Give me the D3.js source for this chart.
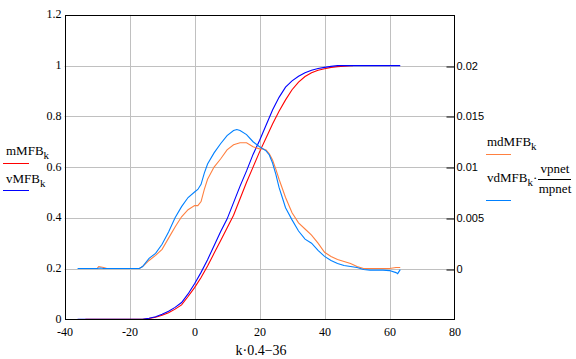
<!DOCTYPE html>
<html>
<head>
<meta charset="utf-8">
<script src="https://cdn.jsdelivr.net/npm/d3@7"></script>
<style>
  html, body { margin: 0; padding: 0; background: #ffffff; }
  svg { display: block; }
</style>
</head>
<body>
<svg id="chart" width="576" height="359"></svg>
<script>
// ---------- DATA ----------
const xTickValues = [-40, -20, 0, 20, 40, 60, 80];
const xTickLabels = ["-40", "-20", "0", "20", "40", "60", "80"];
const leftTickLabels = ["0", "0.2", "0.4", "0.6", "0.8", "1", "1.2"];
const rightTickLabels = ["0", "0.005", "0.01", "0.015", "0.02"];

// mMFB_k (red, left axis)
const mMFB_x = [-33.6,-16,-14,-12,-10,-8,-6,-4,-2,0,2,4,6,8,10,12,14,16,18,20,22,24,26,28,30,32,34,36,38,40,42,44,46,48,48.7];
const mMFB_y = [0,0,0.003,0.008,0.016,0.026,0.04,0.057,0.09,0.125,0.165,0.21,0.26,0.31,0.36,0.41,0.475,0.54,0.60,0.66,0.715,0.77,0.82,0.865,0.905,0.935,0.957,0.972,0.982,0.988,0.993,0.996,0.998,1.0,1.0];

// vMFB_k (blue, left axis)
const vMFB_x = [-36,-16,-14,-12,-10,-8,-6,-4,-2,0,2,4,6,8,10,12,14,16,18,20,22,24,26,28,30,32,34,36,38,40,42,44,63.3];
const vMFB_y = [0,0,0.004,0.01,0.02,0.032,0.047,0.066,0.1,0.14,0.185,0.235,0.29,0.345,0.395,0.46,0.525,0.585,0.65,0.705,0.765,0.825,0.875,0.915,0.94,0.958,0.972,0.982,0.989,0.993,0.997,1.0,1.0];

// mdMFB_k (orange, right axis)
const mdMFB_x = [-34,-30,-29.5,-28,-27,-17,-16,-14,-12,-10,-8,-6,-4,-2,0,1,2,3,4,6,8,10,12,14,16,18,20,21,22,23,24,25,26,28,30,32,34,36,38,40,42,44,46,48,50,52,54,56,58,60,62,63.3];
const mdMFB_y = [0,0,0.0002,0.0001,0,0,0.0002,0.0008,0.0013,0.0019,0.003,0.0041,0.0051,0.0058,0.0062,0.0062,0.0066,0.0078,0.0088,0.0100,0.0108,0.0117,0.0122,0.0124,0.0124,0.012,0.0118,0.0118,0.0117,0.0113,0.0107,0.0098,0.0088,0.007,0.0055,0.0045,0.0039,0.0033,0.0025,0.0016,0.0012,0.0009,0.0007,0.0005,0.0002,0,0,0,0,0,0.0001,0.0001];

// vdMFB_k * vpnet/mpnet (light blue, right axis)
const vdMFB_x = [-36,-30,-29,-28,-17,-16,-14,-12,-10,-8,-6,-4,-2,0,1,2,3,4,6,8,10,12,13,14,16,18,20,22,23,24,25,26,27,28,30,32,34,36,38,40,42,44,46,48,50,52,54,56,58,60,62,62.5,63.3];
const vdMFB_y = [0,0,0.00005,0,0,0.0002,0.001,0.0015,0.0024,0.0036,0.005,0.0061,0.007,0.00755,0.0078,0.0083,0.0094,0.0103,0.0114,0.0123,0.0131,0.0136,0.0137,0.0136,0.0132,0.0125,0.012,0.0116,0.0112,0.0104,0.0093,0.008,0.007,0.006,0.0048,0.0037,0.0029,0.0025,0.0018,0.0012,0.0008,0.0005,0.0003,0.0002,0.0001,-0.0001,-0.00015,-0.00015,-0.00015,-0.0002,-0.0004,-0.0005,-0.0001];

// ---------- LAYOUT ----------
const svg = d3.select("#chart");
const serif = "'Liberation Serif', 'Times New Roman', serif";
const sans = "'Liberation Sans', Arial, sans-serif";

const x = d3.scaleLinear().domain([-40, 80]).range([64.6, 454.5]);
const yL = d3.scaleLinear().domain([0, 1.2]).range([319.3, 14.9]);
const yR = d3.scaleLinear().domain([-0.005, 0.025]).range([319.3, 14.9]);

const gridColor = "#c0c0c0";

// gridlines
svg.append("g").selectAll("line.v")
  .data(xTickValues.filter(v => v > -40 && v < 80))
  .join("line")
  .attr("x1", d => Math.round(x(d)) + 0.5).attr("x2", d => Math.round(x(d)) + 0.5)
  .attr("y1", yL(1.2)).attr("y2", yL(0))
  .attr("stroke", gridColor).attr("stroke-width", 1);

svg.append("g").selectAll("line.h")
  .data(leftTickLabels.map(Number).filter(v => v > 0 && v < 1.2))
  .join("line")
  .attr("x1", x(-40)).attr("x2", x(80))
  .attr("y1", d => Math.round(yL(d)) + 0.5).attr("y2", d => Math.round(yL(d)) + 0.5)
  .attr("stroke", gridColor).attr("stroke-width", 1);

// series lines
function drawSeries(xs, ys, yScale, color) {
  const pts = xs.map((v, i) => [v, ys[i]]);
  const line = d3.line().x(d => x(d[0])).y(d => yScale(d[1]));
  svg.append("path").datum(pts)
    .attr("d", line)
    .attr("fill", "none")
    .attr("stroke", color)
    .attr("stroke-width", 1.1);
}
drawSeries(mMFB_x, mMFB_y, yL, "#ff0000");
drawSeries(vMFB_x, vMFB_y, yL, "#0000ff");
drawSeries(mdMFB_x, mdMFB_y, yR, "#ff8040");
drawSeries(vdMFB_x, vdMFB_y, yR, "#0080ff");

// frame
svg.append("rect")
  .attr("x", 65.5).attr("y", 15.5)
  .attr("width", 454.5 - 65.5).attr("height", 319.5 - 15.5)
  .attr("fill", "none").attr("stroke", "#000").attr("stroke-width", 1);

// left axis
const leftAxis = d3.axisLeft(yL)
  .tickValues(leftTickLabels.map(Number))
  .tickFormat((d, i) => leftTickLabels[i])
  .tickSize(0).tickPadding(4);
const gl = svg.append("g").attr("transform", "translate(65.5,0)").call(leftAxis);
gl.select(".domain").remove();
gl.selectAll("text").attr("font-family", serif).attr("font-size", 12).attr("fill", "#000")
  .attr("dy", "0.25em");

// bottom axis
const bottomAxis = d3.axisBottom(x)
  .tickValues(xTickValues)
  .tickFormat((d, i) => xTickLabels[i])
  .tickSize(0).tickPadding(8);
const gb = svg.append("g").attr("transform", "translate(0,319.5)").call(bottomAxis);
gb.select(".domain").remove();
gb.selectAll("text").attr("font-family", serif).attr("font-size", 12).attr("fill", "#000");

// right axis
const rightAxis = d3.axisRight(yR)
  .tickValues(rightTickLabels.map(Number))
  .tickFormat((d, i) => rightTickLabels[i])
  .tickSize(-8).tickPadding(2);
const gr = svg.append("g").attr("transform", "translate(454.5,0)").call(rightAxis);
gr.select(".domain").remove();
gr.selectAll("line").attr("stroke", "#000").attr("stroke-width", 1)
  .attr("transform", d => `translate(0,${Math.round(yR(d)) + 0.5 - yR(d)})`);
gr.selectAll("text").attr("font-family", sans).attr("font-size", 11).attr("fill", "#000");

// x axis title
const xt = svg.append("text").attr("x", 261).attr("y", 355)
  .attr("text-anchor", "middle").attr("font-family", serif).attr("font-size", 14).attr("fill", "#000");
xt.text("k·0.4−36");

// legend helper
function subLabel(xp, yp, main, sub, tail) {
  const t = svg.append("text").attr("x", xp).attr("y", yp)
    .attr("font-family", serif).attr("font-size", 13).attr("fill", "#000");
  t.append("tspan").text(main);
  t.append("tspan").attr("dy", 4).attr("font-size", 11).text(sub);
  if (tail) t.append("tspan").attr("dy", -4).text(tail);
  return t;
}
// left legend
subLabel(6, 155, "mMFB", "k");
svg.append("line").attr("x1", 3).attr("x2", 29).attr("y1", 163.5).attr("y2", 163.5)
  .attr("stroke", "#ff0000").attr("stroke-width", 1);
subLabel(6, 183, "vMFB", "k");
svg.append("line").attr("x1", 3).attr("x2", 29).attr("y1", 190.5).attr("y2", 190.5)
  .attr("stroke", "#0000ff").attr("stroke-width", 1);

// right legend
subLabel(487, 146, "mdMFB", "k");
svg.append("line").attr("x1", 486).attr("x2", 511).attr("y1", 154.5).attr("y2", 154.5)
  .attr("stroke", "#ff8040").attr("stroke-width", 1);
subLabel(487, 182, "vdMFB", "k", "·");
svg.append("text").attr("x", 555).attr("y", 173).attr("text-anchor", "middle")
  .attr("font-family", serif).attr("font-size", 13).attr("fill", "#000").text("vpnet");
svg.append("line").attr("x1", 538).attr("x2", 571).attr("y1", 179.5).attr("y2", 179.5)
  .attr("stroke", "#000").attr("stroke-width", 1);
svg.append("text").attr("x", 555).attr("y", 192.5).attr("text-anchor", "middle")
  .attr("font-family", serif).attr("font-size", 13).attr("fill", "#000").text("mpnet");
svg.append("line").attr("x1", 486).attr("x2", 511).attr("y1", 200.5).attr("y2", 200.5)
  .attr("stroke", "#0080ff").attr("stroke-width", 1);
</script>
</body>
</html>
